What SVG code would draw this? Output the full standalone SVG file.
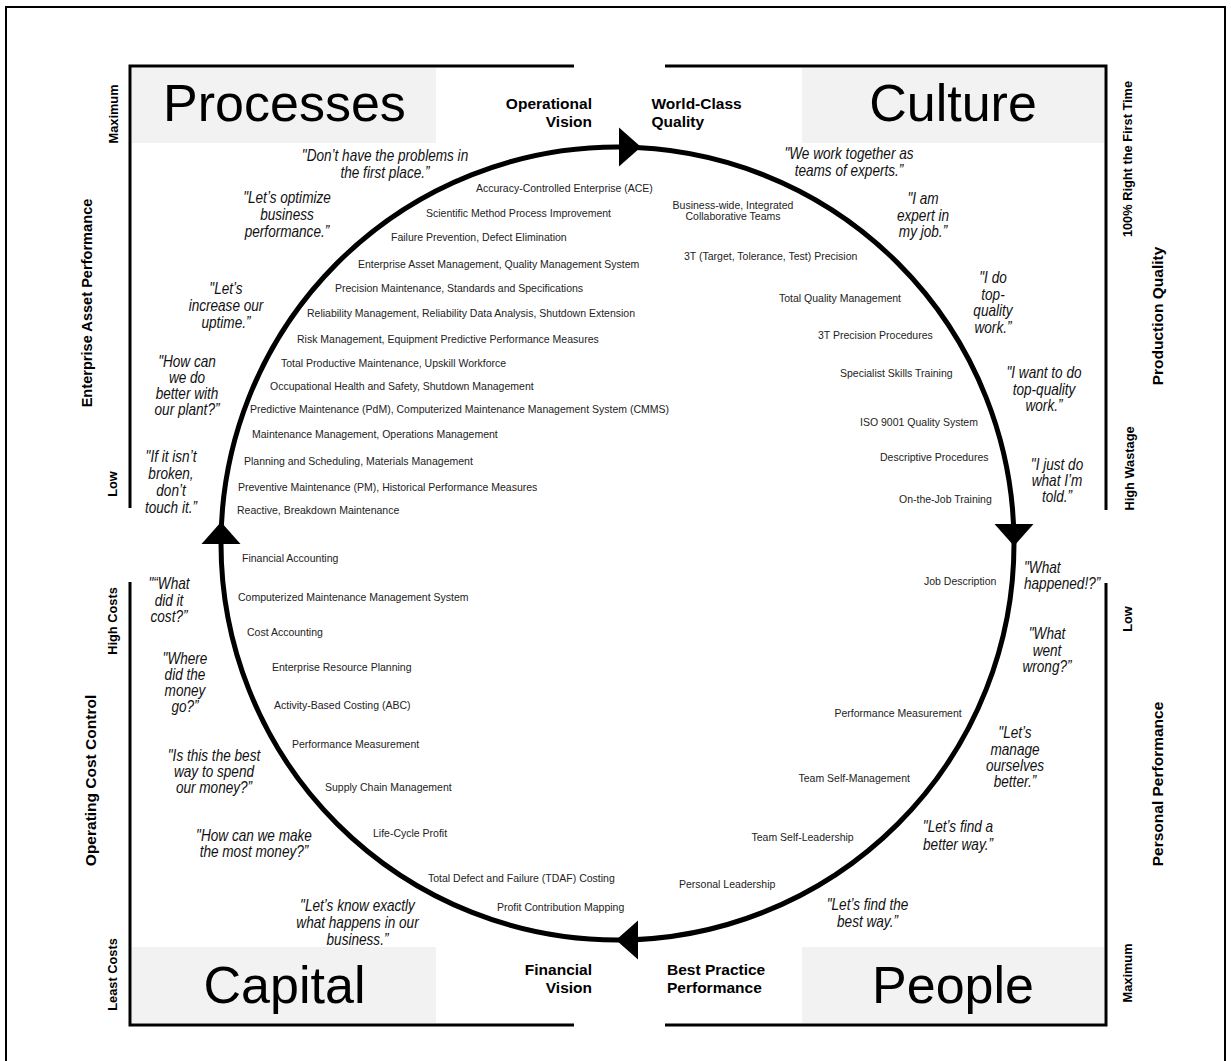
<svg xmlns="http://www.w3.org/2000/svg" xmlns:xlink="http://www.w3.org/1999/xlink" width="1231" height="1061" viewBox="0 0 1231 1061">
<style>
.border{fill:none;stroke:#000;stroke-width:2}
.frame{fill:none;stroke:#000;stroke-width:3}
.box{fill:#f2f2f2}
.title{font-family:'Liberation Sans',Arial,sans-serif;font-size:52px;text-anchor:middle;fill:#000}
.item{font-family:'Liberation Sans',Arial,sans-serif;font-size:10.5px;fill:#222}
.quote{font-family:'Liberation Sans',Arial,sans-serif;font-style:italic;font-size:16px;text-anchor:middle;fill:#111}
.qs{text-anchor:start}
.lbl{font-family:'Liberation Sans',Arial,sans-serif;font-weight:bold;font-size:15.5px;fill:#000}
.ax{font-family:'Liberation Sans',Arial,sans-serif;font-weight:bold;font-size:12.8px;text-anchor:middle;fill:#000}
.axl{font-family:'Liberation Sans',Arial,sans-serif;font-weight:bold;font-size:15.5px;text-anchor:middle;fill:#000}
.ring{fill:none;stroke:#000;stroke-width:5}
.arrow{fill:#000}
</style>
<defs>
<path id="ah" d="M0,-19.5 L22,0 L0,19.5 Z"/>
</defs>
<rect x="0" y="0" width="1231" height="1061" fill="#fff"/>
<path class="border" d="M6,1070 V7 H1225 V1070"/>

<g id="connectors">
<circle class="ring" cx="617.5" cy="543.5" r="396.5"/>
<use xlink:href="#ah" class="arrow" transform="translate(619,147)"/>
<use xlink:href="#ah" class="arrow" transform="translate(1014,524) rotate(90)"/>
<use xlink:href="#ah" class="arrow" transform="translate(638,940) rotate(180)"/>
<use xlink:href="#ah" class="arrow" transform="translate(221,544) rotate(-90)"/>
</g>

<g id="processes">
<path class="frame" d="M130,508 V66 H574"/>
<rect class="box" x="132" y="68" width="304" height="75"/>
<text class="title" x="284.5" y="121">Processes</text>
<text class="lbl" x="592" y="109" text-anchor="end">Operational</text>
<text class="lbl" x="592" y="127" text-anchor="end">Vision</text>
<g id="processes-items">
<text class="item" x="476" y="192">Accuracy-Controlled Enterprise (ACE)</text>
<text class="item" x="426" y="216.5">Scientific Method Process Improvement</text>
<text class="item" x="391" y="240.5">Failure Prevention, Defect Elimination</text>
<text class="item" x="358" y="267.5">Enterprise Asset Management, Quality Management System</text>
<text class="item" x="335" y="291.5">Precision Maintenance, Standards and Specifications</text>
<text class="item" x="307" y="316.5">Reliability Management, Reliability Data Analysis, Shutdown Extension</text>
<text class="item" x="297" y="342.5">Risk Management, Equipment Predictive Performance Measures</text>
<text class="item" x="281" y="366.5">Total Productive Maintenance, Upskill Workforce</text>
<text class="item" x="270" y="389.5">Occupational Health and Safety, Shutdown Management</text>
<text class="item" x="250" y="412.5">Predictive Maintenance (PdM), Computerized Maintenance Management System (CMMS)</text>
<text class="item" x="252" y="437.5">Maintenance Management, Operations Management</text>
<text class="item" x="244" y="464.5">Planning and Scheduling, Materials Management</text>
<text class="item" x="238" y="490.5">Preventive Maintenance (PM), Historical Performance Measures</text>
<text class="item" x="237" y="513.5">Reactive, Breakdown Maintenance</text>
</g>
<g id="processes-quotes">
<text class="quote" transform="matrix(.85 0 0 1 385 0)" y="161"><tspan x="0">"Don’t have the problems in</tspan><tspan x="0" dy="17">the first place.”</tspan></text>
<text class="quote" transform="matrix(.85 0 0 1 287 0)" y="203.5"><tspan x="0">"Let’s optimize</tspan><tspan x="0" dy="16.8">business</tspan><tspan x="0" dy="16.8">performance.”</tspan></text>
<text class="quote" transform="matrix(.85 0 0 1 226 0)" y="294.5"><tspan x="0">"Let’s</tspan><tspan x="0" dy="16.8">increase our</tspan><tspan x="0" dy="16.8">uptime.”</tspan></text>
<text class="quote" transform="matrix(.85 0 0 1 187 0)" y="367.5"><tspan x="0">"How can</tspan><tspan x="0" dy="16">we do</tspan><tspan x="0" dy="16">better with</tspan><tspan x="0" dy="16">our plant?”</tspan></text>
<text class="quote" transform="matrix(.85 0 0 1 171 0)" y="462.5"><tspan x="0">"If it isn’t</tspan><tspan x="0" dy="16.7">broken,</tspan><tspan x="0" dy="16.7">don’t</tspan><tspan x="0" dy="16.7">touch it.”</tspan></text>
</g>
</g>

<g id="culture">
<path class="frame" d="M665,66 H1106 V510"/>
<rect class="box" x="802" y="68" width="302" height="75"/>
<text class="title" x="953" y="121">Culture</text>
<text class="lbl" x="651.5" y="109">World-Class</text>
<text class="lbl" x="651.5" y="127">Quality</text>
<g id="culture-items">
<text class="item" text-anchor="middle" y="208.7"><tspan x="733">Business-wide, Integrated</tspan><tspan x="733" dy="11.7">Collaborative Teams</tspan></text>
<text class="item" x="684" y="259.5">3T (Target, Tolerance, Test) Precision</text>
<text class="item" x="779" y="301.5">Total Quality Management</text>
<text class="item" x="818" y="338.5">3T Precision Procedures</text>
<text class="item" x="840" y="376.5">Specialist Skills Training</text>
<text class="item" x="860" y="425.5">ISO 9001 Quality System</text>
<text class="item" x="880" y="460.5">Descriptive Procedures</text>
<text class="item" x="899" y="502.5">On-the-Job Training</text>
</g>
<g id="culture-quotes">
<text class="quote" transform="matrix(.85 0 0 1 849 0)" y="159.5"><tspan x="0">"We work together as</tspan><tspan x="0" dy="17">teams of experts.”</tspan></text>
<text class="quote" transform="matrix(.85 0 0 1 923 0)" y="204.5"><tspan x="0">"I am</tspan><tspan x="0" dy="16.5">expert in</tspan><tspan x="0" dy="16.5">my job.”</tspan></text>
<text class="quote" transform="matrix(.85 0 0 1 993 0)" y="283.5"><tspan x="0">"I do</tspan><tspan x="0" dy="16.5">top-</tspan><tspan x="0" dy="16.5">quality</tspan><tspan x="0" dy="16.5">work.”</tspan></text>
<text class="quote" transform="matrix(.85 0 0 1 1044 0)" y="378.5"><tspan x="0">"I want to do</tspan><tspan x="0" dy="16.5">top-quality</tspan><tspan x="0" dy="16.5">work.”</tspan></text>
<text class="quote" transform="matrix(.85 0 0 1 1057 0)" y="470.5"><tspan x="0">"I just do</tspan><tspan x="0" dy="16">what I’m</tspan><tspan x="0" dy="16">told.”</tspan></text>
</g>
</g>

<g id="capital">
<path class="frame" d="M130,582 V1025 H574"/>
<rect class="box" x="132" y="947" width="304" height="76"/>
<text class="title" x="284.5" y="1003">Capital</text>
<text class="lbl" x="592" y="975" text-anchor="end">Financial</text>
<text class="lbl" x="592" y="993" text-anchor="end">Vision</text>
<g id="capital-items">
<text class="item" x="242" y="561.5">Financial Accounting</text>
<text class="item" x="238" y="600.5">Computerized Maintenance Management System</text>
<text class="item" x="247" y="635.5">Cost Accounting</text>
<text class="item" x="272" y="670.5">Enterprise Resource Planning</text>
<text class="item" x="274" y="708.5">Activity-Based Costing (ABC)</text>
<text class="item" x="292" y="747.5">Performance Measurement</text>
<text class="item" x="325" y="790.5">Supply Chain Management</text>
<text class="item" x="373" y="836.5">Life-Cycle Profit</text>
<text class="item" x="428" y="881.5">Total Defect and Failure (TDAF) Costing</text>
<text class="item" x="497" y="910.5">Profit Contribution Mapping</text>
</g>
<g id="capital-quotes">
<text class="quote" transform="matrix(.85 0 0 1 169 0)" y="589.5"><tspan x="0">"“What</tspan><tspan x="0" dy="16.5">did it</tspan><tspan x="0" dy="16.5">cost?”</tspan></text>
<text class="quote" transform="matrix(.85 0 0 1 185 0)" y="664.5"><tspan x="0">"Where</tspan><tspan x="0" dy="16">did the</tspan><tspan x="0" dy="16">money</tspan><tspan x="0" dy="16">go?”</tspan></text>
<text class="quote" transform="matrix(.85 0 0 1 214 0)" y="761.5"><tspan x="0">"Is this the best</tspan><tspan x="0" dy="16">way to spend</tspan><tspan x="0" dy="16">our money?”</tspan></text>
<text class="quote" transform="matrix(.85 0 0 1 254 0)" y="841.5"><tspan x="0">"How can we make</tspan><tspan x="0" dy="16">the most money?”</tspan></text>
<text class="quote" transform="matrix(.85 0 0 1 357.5 0)" y="911.5"><tspan x="0">"Let’s know exactly</tspan><tspan x="0" dy="17">what happens in our</tspan><tspan x="0" dy="17">business.”</tspan></text>
</g>
</g>

<g id="people">
<path class="frame" d="M665,1025 H1106 V583"/>
<rect class="box" x="802" y="947" width="302" height="76"/>
<text class="title" x="953" y="1003">People</text>
<text class="lbl" x="667" y="975">Best Practice</text>
<text class="lbl" x="667" y="993">Performance</text>
<g id="people-items">
<text class="item" x="924" y="584.5">Job Description</text>
<text class="item" x="834.5" y="716.5">Performance Measurement</text>
<text class="item" x="798.5" y="781.5">Team Self-Management</text>
<text class="item" x="751.5" y="840.5">Team Self-Leadership</text>
<text class="item" x="679" y="887.5">Personal Leadership</text>
</g>
<g id="people-quotes">
<text class="quote qs" transform="matrix(.85 0 0 1 1024 0)" y="573.5"><tspan x="0">"What</tspan><tspan x="0" dy="16">happened!?”</tspan></text>
<text class="quote" transform="matrix(.85 0 0 1 1047 0)" y="639.5"><tspan x="0">"What</tspan><tspan x="0" dy="16.5">went</tspan><tspan x="0" dy="16.5">wrong?”</tspan></text>
<text class="quote" transform="matrix(.85 0 0 1 1015 0)" y="738.5"><tspan x="0">"Let’s</tspan><tspan x="0" dy="16.3">manage</tspan><tspan x="0" dy="16.3">ourselves</tspan><tspan x="0" dy="16.3">better.”</tspan></text>
<text class="quote" transform="matrix(.85 0 0 1 958 0)" y="832.5"><tspan x="0">"Let’s find a</tspan><tspan x="0" dy="17.5">better way.”</tspan></text>
<text class="quote" transform="matrix(.85 0 0 1 867.5 0)" y="910.5"><tspan x="0">"Let’s find the</tspan><tspan x="0" dy="17">best way.”</tspan></text>
</g>
</g>

<g id="axis-left">
<text class="ax" transform="translate(118,114) rotate(-90)">Maximum</text>
<text class="axl" style="font-size:14.6px" transform="translate(92,303) rotate(-90)">Enterprise Asset Performance</text>
<text class="ax" transform="translate(117,484) rotate(-90)">Low</text>
<text class="ax" transform="translate(117,621) rotate(-90)">High Costs</text>
<text class="axl" transform="translate(96,780.5) rotate(-90)">Operating Cost Control</text>
<text class="ax" transform="translate(117,974.5) rotate(-90)">Least Costs</text>
</g>

<g id="axis-right">
<text class="ax" transform="translate(1132,159) rotate(-90)">100% Right the First Time</text>
<text class="axl" transform="translate(1163,316) rotate(-90)">Production Quality</text>
<text class="ax" transform="translate(1134,468.5) rotate(-90)">High Wastage</text>
<text class="ax" transform="translate(1132,619) rotate(-90)">Low</text>
<text class="axl" transform="translate(1163,784) rotate(-90)">Personal Performance</text>
<text class="ax" transform="translate(1132,973) rotate(-90)">Maximum</text>
</g>
</svg>
